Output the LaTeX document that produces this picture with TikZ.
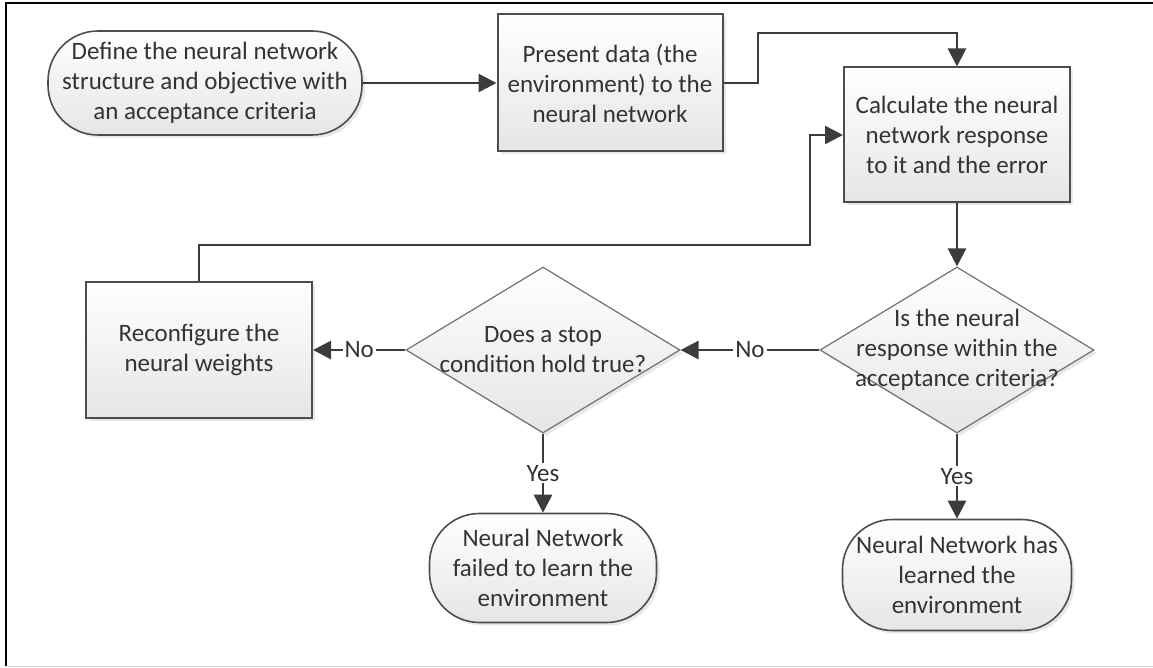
\documentclass[tikz,border=0pt]{standalone}
\usepackage{fontspec}
\setmainfont{Carlito}
\usetikzlibrary{arrows.meta,positioning,shapes.geometric,shadows}
\definecolor{ink}{HTML}{333333}
\definecolor{edge}{HTML}{4D4D4D}
\definecolor{wire}{HTML}{3C3C3C}

\begin{document}
\begin{tikzpicture}[x=0.5pt,y=-0.5pt,
    every node/.style={font=\fontsize{12.5}{15}\selectfont, text=ink, align=center},
    boxfill/.style={top color=white, bottom color=black!10,
        drop shadow={shadow xshift=1.5pt, shadow yshift=-1.5pt, opacity=0.18}},
    procbox/.style={boxfill, rectangle, draw=edge, line width=1pt, inner sep=0pt},
    termbox/.style={boxfill, rectangle, rounded corners=25pt, draw=edge, line width=0.8pt, inner sep=0pt},
    decide/.style={boxfill, diamond, draw=edge!80, line width=0.6pt,
        minimum width=137pt, minimum height=83pt, inner sep=0pt},
    flow/.style={draw=wire, line width=1.3pt, -{Triangle[length=9pt,width=9pt]}},
    lbl/.style={fill=white, inner sep=1pt}]
    \useasboundingbox (0,0) rectangle (1153,668);
    \draw[line width=1.2pt] (6,666) -- (6,3) -- (1153,3);
    \draw[black!15] (6,666) -- (1153,666);

    \node[termbox, minimum width=157pt, minimum height=52pt] (define) at (205,83) {Define the neural network\\structure and objective with\\an acceptance criteria};
    \node[procbox, minimum width=112.5pt, minimum height=68.5pt] (present) at (610,83) {Present data (the\\environment) to the\\neural network};
    \node[procbox, minimum width=113pt, minimum height=67.5pt] (calc) at (957,135) {Calculate the neural\\network response\\to it and the error};
    \node[decide, label={center:Is the neural\\response within the\\acceptance criteria?}] (isok) at (957,350) {};
    \node[decide, label={center:Does a stop\\condition hold true?}] (stop) at (543,350) {};
    \node[procbox, minimum width=113pt, minimum height=68pt] (reconf) at (199,350) {Reconfigure the\\neural weights};
    \node[termbox, minimum width=113.5pt, minimum height=54.5pt] (failed) at (543,568) {Neural Network\\failed to learn the\\environment};
    \node[termbox, minimum width=114.5pt, minimum height=55.5pt] (learned) at (957,575) {Neural Network has\\learned the\\environment};

    \coordinate (up) at (758,33);
    \coordinate (back) at (810,245);

    \draw[flow] (define) -- (present);
    \draw[flow] (present.east) -| (up) -| (calc.north);
    \draw[flow] (calc) -- (isok);
    \draw[flow] (isok) -- node[lbl] {No} (stop);
    \draw[flow] (stop) -- node[lbl] {No} (reconf);
    \draw[flow] (stop) -- node[lbl] {Yes} (failed);
    \draw[flow] (isok) -- node[lbl] {Yes} (learned);
    \draw[flow] (reconf.north) |- (back) |- (calc.west);
\end{tikzpicture}
\end{document}
